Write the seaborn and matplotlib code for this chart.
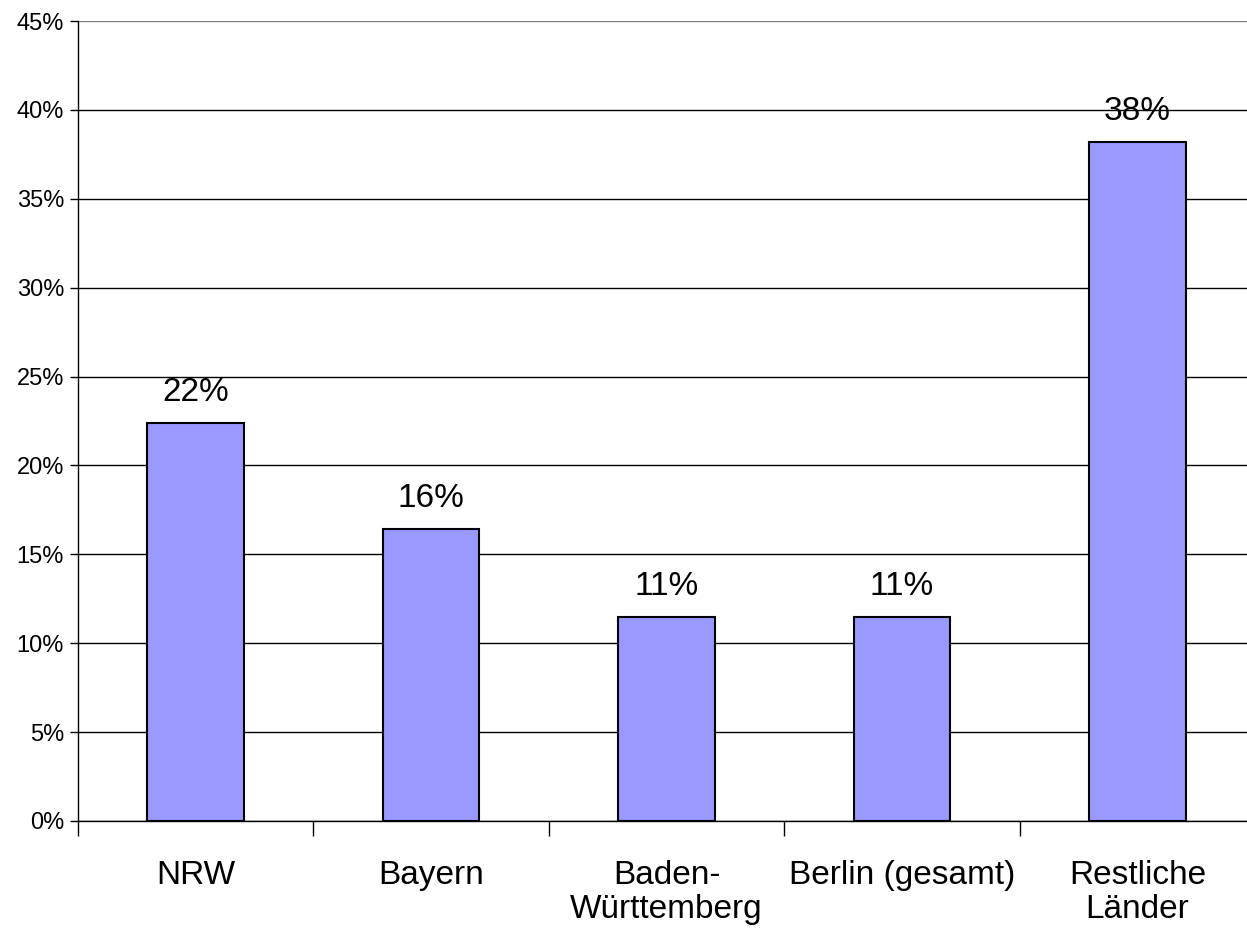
import matplotlib
matplotlib.use("Agg")
import matplotlib.pyplot as plt
import seaborn as sns
import pandas as pd
from matplotlib.ticker import FixedLocator, FuncFormatter

# values
laender = ["NRW", "Bayern", "Baden-\nWürttemberg", "Berlin (gesamt)", "Restliche\nLänder"]
anteile = [22.4, 16.4, 11.45, 11.45, 38.2]

sns.set_theme(style="white")
plt.rcParams['font.family'] = ['Liberation Sans', 'DejaVu Sans']
plt.rcParams['text.color'] = 'black'
plt.rcParams['xtick.color'] = 'black'
plt.rcParams['ytick.color'] = 'black'

df = pd.DataFrame({"land": laender, "anteil": anteile})

fig = plt.figure(figsize=(12.47, 9.34), dpi=100)
ax = fig.add_axes([0.0625, 0.121, 0.944, 0.8565])

ax.set_axisbelow(True)
ax.yaxis.grid(True, color='black', linewidth=1.0)
sns.barplot(data=df, x="land", y="anteil", color='#9999FF', width=0.41,
            edgecolor='black', linewidth=1.5, saturation=1, ax=ax)

ax.set_xlim(-0.5, len(laender) - 0.5)
ax.set_ylim(0, 45)
ax.set_yticks(range(0, 46, 5))
ax.yaxis.set_major_formatter(FuncFormatter(lambda v, p: f"{v:.0f}%"))
ax.tick_params(axis='y', left=True, length=6, width=1, labelsize=17, pad=4)
ax.get_ygridlines()[-1].set_color('#808080')

# ticks at the category boundaries, labels in the middle
ax.xaxis.set_major_locator(FixedLocator([i - 0.5 for i in range(len(laender) + 1)]))
ax.xaxis.set_minor_locator(FixedLocator(list(range(len(laender)))))
ax.set_xticklabels([""] * (len(laender) + 1))
ax.set_xticklabels(laender, minor=True)
ax.tick_params(axis='x', which='major', bottom=True, length=11, width=1)
ax.tick_params(axis='x', which='minor', bottom=False, length=0, labelsize=24, pad=28)
for lbl in ax.get_xticklabels(minor=True):
    lbl.set_linespacing(1.12)

ax.set_xlabel("")
ax.set_ylabel("")

for s in ['top', 'right']:
    ax.spines[s].set_visible(False)
for s in ['left', 'bottom']:
    ax.spines[s].set_color('black')
    ax.spines[s].set_linewidth(1.0)

for i, v in enumerate(anteile):
    ax.annotate(f"{v:.0f}%", (i, v), xytext=(0, 16), textcoords='offset points',
                ha='center', va='baseline', fontsize=24)

plt.savefig("out.png", dpi=100)
plt.close()
